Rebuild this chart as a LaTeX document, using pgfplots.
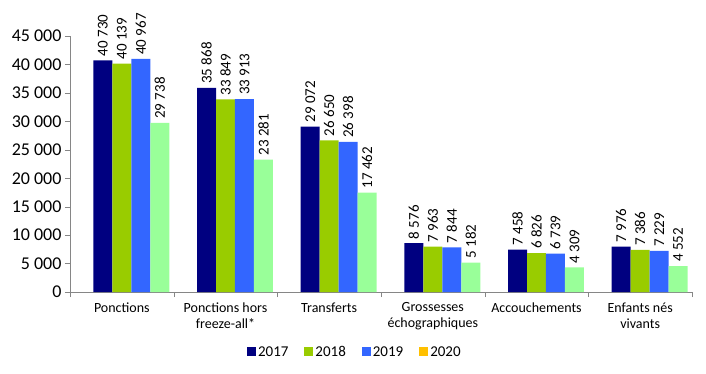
\documentclass[border=0pt]{standalone}
\usepackage{fontspec}
\setmainfont{Carlito}
\usepackage{pgfplots}
\pgfplotsset{compat=1.18}
\definecolor{c17}{HTML}{000080}
\definecolor{c18}{HTML}{99CC00}
\definecolor{c19}{HTML}{3366FF}
\definecolor{c20}{HTML}{99FF99}
\definecolor{c20leg}{HTML}{FFC000}
\definecolor{axgray}{HTML}{868686}
\begin{document}
\begin{tikzpicture}
\path (-70bp,-82bp) rectangle (636bp,292bp);
\begin{axis}[
  at={(0,0)}, anchor=south west,
  scale only axis,
  width=622bp, height=256bp,
  xmin=-0.5, xmax=5.5,
  ymin=0, ymax=45000,
  axis lines*=left,
  axis line style={axgray},
  ybar=0pt,
  bar width=0.183,
  xtick={0,1,2,3,4,5},
  xticklabels={Ponctions,{Ponctions hors\\freeze-all*},Transferts,{Grossesses\\échographiques},Accouchements,{Enfants nés\\vivants}},
  xticklabel style={align=center, font=\fontsize{14bp}{16bp}\selectfont, yshift=-2bp},
  minor xtick={-0.5,0.5,...,5.5},
  major x tick style={draw=none},
  minor x tick style={axgray},
  minor tick length=5bp,
  tick align=outside,
  ytick={0,5000,...,45000},
  scaled y ticks=false,
  y tick style={axgray},
  major tick length=5bp,
  yticklabel style={font=\fontsize{18bp}{20bp}\selectfont},
  /pgf/number format/.cd, assume math mode=true, fixed, precision=0, 1000 sep={\ },
  /pgfplots/.cd,
  nodes near coords,
  every node near coord/.append style={rotate=90, anchor=west, font=\fontsize{15bp}{17bp}\selectfont, black, inner sep=2bp, xshift=2bp},
  legend columns=4,
  legend style={draw=none, at={(axis description cs:0.458,-0.234)}, anchor=center, font=\fontsize{15bp}{17bp}\selectfont, /tikz/every even column/.append style={column sep=14bp}},
  legend image code/.code={\fill[#1] (0bp,-4.5bp) rectangle (9bp,4.5bp);},
  clip=false,
]
\addplot[fill=c17, draw=none] coordinates {(0,40730) (1,35868) (2,29072) (3,8576) (4,7458) (5,7976)};
\addplot[fill=c18, draw=none] coordinates {(0,40139) (1,33849) (2,26650) (3,7963) (4,6826) (5,7386)};
\addplot[fill=c19, draw=none] coordinates {(0,40967) (1,33913) (2,26398) (3,7844) (4,6739) (5,7229)};
\addplot[fill=c20, draw=none, forget plot] coordinates {(0,29738) (1,23281) (2,17462) (3,5182) (4,4309) (5,4552)};
\addlegendimage{fill=c20leg, draw=none}
\legend{2017,2018,2019,2020}
\end{axis}
\end{tikzpicture}
\end{document}
